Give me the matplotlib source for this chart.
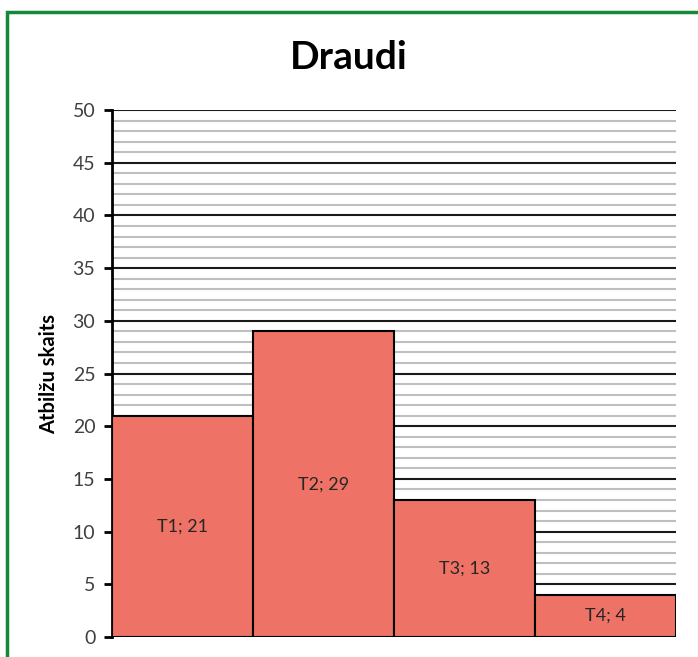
import matplotlib
matplotlib.use("Agg")
import matplotlib.pyplot as plt
from matplotlib.patches import Rectangle
from matplotlib.ticker import MultipleLocator

# data
categories = ["T1", "T2", "T3", "T4"]
values = [21, 29, 13, 4]

plt.rcParams["font.family"] = ["Lato", "DejaVu Sans"]

fig = plt.figure(figsize=(6.98, 6.57), dpi=100)
ax = fig.add_axes([0.1605, 0.0304, 0.808, 0.802])

# green frame around the chart
fig.patches.append(Rectangle((7.5 / 698, -0.1), 1.2, 1.1 - 11.5 / 657,
                             transform=fig.transFigure, fill=False,
                             edgecolor="#14893a", linewidth=2.5, zorder=10))

x = list(range(len(values)))
ax.bar(x, values, width=1.0, color="#ee7366", edgecolor="black", linewidth=1.5, zorder=3)
for xi, c, v in zip(x, categories, values):
    ax.text(xi, v / 2, f"{c}; {v}", ha="center", va="center", fontsize=13, color="#262626", zorder=4)

ax.set_xlim(-0.5, len(values) - 0.5)
ax.set_ylim(0, 50)
ax.yaxis.set_major_locator(MultipleLocator(5))
ax.yaxis.set_minor_locator(MultipleLocator(1))
ax.grid(axis="y", which="major", color="#1a1a1a", linewidth=1.5, zorder=1)
ax.grid(axis="y", which="minor", color="#bfbfbf", linewidth=1.5, zorder=0)
ax.set_axisbelow(True)

for s in ["top", "right", "bottom"]:
    ax.spines[s].set_visible(False)
ax.spines["left"].set_linewidth(2)
ax.set_xticks([])
ax.tick_params(axis="y", which="major", length=6, width=2, labelsize=14, labelcolor="#404040", pad=6)
ax.tick_params(axis="y", which="minor", length=0)

ax.set_ylabel("Atbilžu skaits", fontsize=14.5, fontweight="bold", labelpad=10)
fig.text(0.5, 0.913, "Draudi", ha="center", va="center", fontsize=28, fontweight="bold")

fig.savefig("out.png", dpi=100)
